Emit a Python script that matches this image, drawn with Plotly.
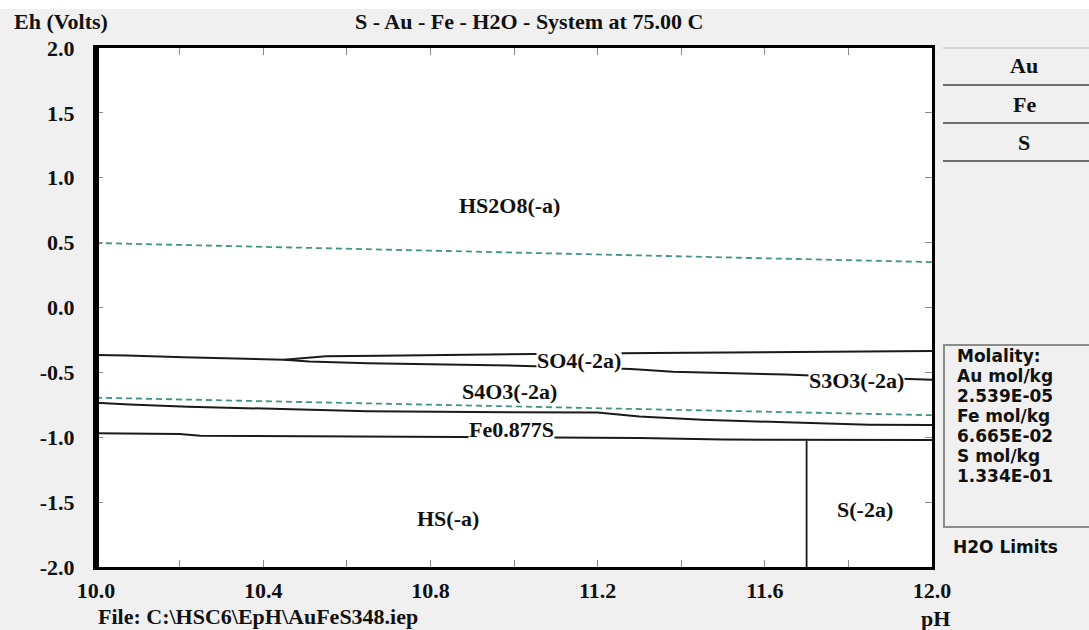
import plotly.graph_objects as go

# ---------------- data ----------------
# water stability limits (dashed)
ph_o2_limit = [10.0, 12.0]
eh_o2_limit = [0.497, 0.350]
ph_h2_limit = [10.0, 12.0]
eh_h2_limit = [-0.695, -0.830]

# HS2O8(-a) / S4O3(-2a) boundary
ph_hs2o8_s4o3 = [10.0, 10.074, 10.21, 10.35, 10.45]
eh_hs2o8_s4o3 = [-0.366, -0.370, -0.384, -0.397, -0.402]

# HS2O8(-a) / SO4(-2a) boundary
ph_hs2o8_so4 = [10.45, 10.55, 10.68, 10.80, 11.05, 11.33, 11.50, 11.83, 12.0]
eh_hs2o8_so4 = [-0.402, -0.376, -0.371, -0.365, -0.358, -0.350, -0.345, -0.337, -0.335]

# SO4(-2a) / S4O3(-2a), S3O3(-2a) boundary
ph_so4_s3o3 = [10.45, 10.51, 10.65, 10.80, 10.95, 11.05, 11.28, 11.38, 11.50, 11.65, 11.80, 12.0]
eh_so4_s3o3 = [-0.402, -0.417, -0.430, -0.435, -0.445, -0.452, -0.474, -0.495, -0.505, -0.516, -0.535, -0.557]

# S4O3 / S3O3 / Fe0.877S boundary
ph_s_fes = [10.0, 10.08, 10.22, 10.37, 10.50, 10.65, 10.90, 11.20, 11.30, 11.45, 11.65, 11.85, 12.0]
eh_s_fes = [-0.734, -0.748, -0.764, -0.777, -0.790, -0.800, -0.805, -0.810, -0.840, -0.865, -0.885, -0.903, -0.906]

# Fe0.877S / HS(-a), S(-2a) boundary
ph_fes_hs = [10.0, 10.20, 10.25, 10.60, 11.00, 11.30, 11.50, 12.0]
eh_fes_hs = [-0.970, -0.975, -0.988, -0.995, -1.000, -1.006, -1.018, -1.021]

# HS(-a) / S(-2a) boundary
ph_hs_s2 = [11.70, 11.70]
eh_hs_s2 = [-2.0, -1.019]

# region labels
region_names = ["HS2O8(-a)", "SO4(-2a)", "S4O3(-2a)", "S3O3(-2a)", "Fe0.877S", "HS(-a)", "S(-2a)"]
region_ph = [10.99, 11.155, 10.99, 11.82, 10.995, 10.843, 11.84]
region_eh = [0.79, -0.412, -0.65, -0.56, -0.94, -1.63, -1.553]
region_opaque = [False, True, False, True, True, False, False]

# ticks
x_tick_vals = [10.0, 10.2, 10.4, 10.6, 10.8, 11.0, 11.2, 11.4, 11.6, 11.8, 12.0]
x_tick_text = ["10.0", "", "10.4", "", "10.8", "", "11.2", "", "11.6", "", "12.0"]
y_tick_vals = [2.0, 1.5, 1.0, 0.5, 0.0, -0.5, -1.0, -1.5, -2.0]
y_tick_text = ["2.0", "1.5", "1.0", "0.5", "0.0", "-0.5", "-1.0", "-1.5", "-2.0"]

# side panel texts
element_buttons = ["Au", "Fe", "S"]
molality_lines = ["Molality:", "Au mol/kg", "2.539E-05", "Fe mol/kg", "6.665E-02", "S mol/kg", "1.334E-01"]

# ---------------- figure ----------------
W, H = 1089, 630
L, R, T, B = 96, 932, 48, 567

def px_x(px):
    return (px - L) / (R - L)

def px_y(py):
    return (B - py) / (B - T)

SERIF = "Liberation Serif"
SANS = "DejaVu Sans"
FS = 22
LINE_COL = "#1a1a1a"
DASH_COL = "#3f9585"
TXT = "#111"

fig = go.Figure()

def add_line(xs, ys, color=LINE_COL, width=2, dash=None):
    fig.add_trace(go.Scatter(x=xs, y=ys, mode="lines",
                             line=dict(color=color, width=width, dash=dash),
                             hoverinfo="skip", showlegend=False))

add_line(ph_o2_limit, eh_o2_limit, color=DASH_COL, width=1.8, dash="6px,4px")
add_line(ph_h2_limit, eh_h2_limit, color=DASH_COL, width=1.8, dash="6px,4px")
add_line(ph_hs2o8_s4o3, eh_hs2o8_s4o3)
add_line(ph_hs2o8_so4, eh_hs2o8_so4)
add_line(ph_so4_s3o3, eh_so4_s3o3)
add_line(ph_s_fes, eh_s_fes)
add_line(ph_fes_hs, eh_fes_hs)
add_line(ph_hs_s2, eh_hs_s2, width=1.8)

serif_font = dict(family=SERIF, size=FS, color=TXT, weight="bold")
sans_font = dict(family=SANS, size=17, color=TXT, weight="bold")

annotations = []
for name, xv, yv, op in zip(region_names, region_ph, region_eh, region_opaque):
    annotations.append(dict(x=xv, y=yv, xref="x", yref="y", text=name, showarrow=False,
                            font=serif_font,
                            bgcolor="white" if op else None, borderpad=0,
                            xanchor="center", yanchor="middle"))

def paper_text(px, py, text, font, anchor="left"):
    annotations.append(dict(x=px_x(px), y=px_y(py), xref="paper", yref="paper", text=text,
                            showarrow=False, xanchor=anchor, yanchor="middle", font=font))

# outer texts
paper_text(12, 22, "Eh (Volts)", serif_font)
paper_text(529, 22, "S - Au - Fe - H2O - System at 75.00 C", serif_font, "center")
paper_text(96, 616, "File: C:\\HSC6\\EpH\\AuFeS348.iep", serif_font)
paper_text(936, 618, "pH", serif_font, "center")

# element buttons
btn_centers = [66, 104, 142]
for name, cy in zip(element_buttons, btn_centers):
    paper_text(1024, cy, name, serif_font, "center")

# molality box text
mol_y0, mol_dy = 356, 20
for i, t in enumerate(molality_lines):
    paper_text(955, mol_y0 + i * mol_dy, t, sans_font)
paper_text(951, 547, "H2O Limits", sans_font)

shapes = [
    # white strip at very top
    dict(type="rect", xref="paper", yref="paper", x0=px_x(0), x1=px_x(W), y0=px_y(0), y1=px_y(9),
         fillcolor="white", line=dict(width=0), layer="below"),
    # thicker left frame
    dict(type="line", xref="paper", yref="paper", x0=px_x(96.5), x1=px_x(96.5), y0=0, y1=1,
         line=dict(color="black", width=5)),
    # buttons
    dict(type="line", xref="paper", yref="paper", x0=px_x(943), x1=px_x(1089), y0=px_y(48), y1=px_y(48),
         line=dict(color="#d4d4d4", width=2)),
    dict(type="line", xref="paper", yref="paper", x0=px_x(943), x1=px_x(1089), y0=px_y(85), y1=px_y(85),
         line=dict(color="#6e6e6e", width=2)),
    dict(type="line", xref="paper", yref="paper", x0=px_x(943), x1=px_x(1089), y0=px_y(123), y1=px_y(123),
         line=dict(color="#6e6e6e", width=2)),
    dict(type="line", xref="paper", yref="paper", x0=px_x(943), x1=px_x(1089), y0=px_y(161), y1=px_y(161),
         line=dict(color="#6e6e6e", width=2)),
    # molality box
    dict(type="rect", xref="paper", yref="paper", x0=px_x(944), x1=px_x(1095), y0=px_y(527), y1=px_y(345),
         line=dict(color="#8c8c8c", width=2), fillcolor="rgba(0,0,0,0)"),
]

axis_font = dict(family=SERIF, size=FS, color=TXT, weight="bold")

fig.update_layout(
    width=W, height=H,
    margin=dict(l=L, r=W - R, t=T, b=H - B, pad=0),
    paper_bgcolor="#f0f0f0",
    plot_bgcolor="white",
    showlegend=False,
    annotations=annotations,
    shapes=shapes,
    xaxis=dict(range=[10.0, 12.0], tickmode="array", tickvals=x_tick_vals, ticktext=x_tick_text,
               ticks="inside", ticklen=7, tickcolor="#888", tickwidth=1,
               showline=True, linecolor="black", linewidth=3, mirror="ticks",
               showgrid=False, zeroline=False, ticklabelstandoff=2,
               tickfont=axis_font),
    yaxis=dict(range=[-2.0, 2.0], tickmode="array", tickvals=y_tick_vals, ticktext=y_tick_text,
               ticks="inside", ticklen=7, tickcolor="#888", tickwidth=1,
               showline=True, linecolor="black", linewidth=3, mirror="ticks",
               showgrid=False, zeroline=False, ticklabelstandoff=14,
               tickfont=axis_font),
)

fig.write_html("out.html",
               config={"displayModeBar": False},
               post_script="document.body.style.margin='0';document.body.style.overflow='hidden';")
